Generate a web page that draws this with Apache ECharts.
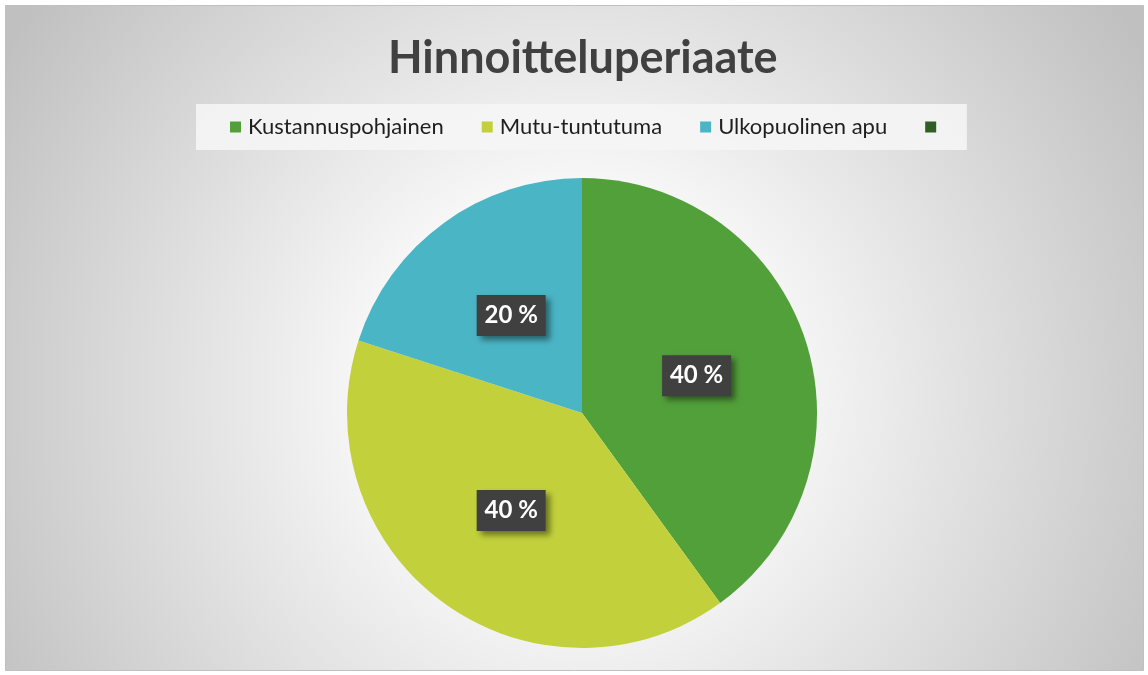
<!DOCTYPE html>
<html>
<head>
<meta charset="utf-8">
<script src="https://cdn.jsdelivr.net/npm/echarts@6/dist/echarts.min.js"></script>
<style>
html,body{margin:0;padding:0;background:#fff;}
#chart{width:1148px;height:675px;}
</style>
</head>
<body>
<div id="chart"></div>
<script>
const titleText = 'Hinnoitteluperiaate';
const categories = ['Kustannuspohjainen', 'Mutu-tuntutuma', 'Ulkopuolinen apu', ' '];
const values = [40, 40, 20, 0];
const colors = ['#52a03a', '#c2d13b', '#4ab5c5', '#2f5f24'];

const chart = echarts.init(document.getElementById('chart'));
const data = categories.map((c, i) => {
  const d = { name: c, value: values[i], itemStyle: { color: colors[i] } };
  if (!values[i]) { d.label = { show: false }; d.labelLine = { show: false }; }
  return d;
});

chart.setOption({
  animation: false,
  graphic: [{
    type: 'rect',
    z: -10,
    silent: true,
    shape: { x: 5.5, y: 5.5, width: 1138, height: 665 },
    style: {
      fill: {
        type: 'radial', x: 0.5, y: 0.58, r: 1.0,
        colorStops: [
          { offset: 0, color: '#ffffff' },
          { offset: 0.3, color: '#f8f8f8' },
          { offset: 1, color: '#c0c0c0' }
        ]
      },
      stroke: '#c0c0c0',
      lineWidth: 1
    }
  }],
  title: {
    text: titleText,
    left: 383,
    top: 31,
    textStyle: {
      fontFamily: 'Lato',
      fontSize: 45,
      fontWeight: 'bold',
      color: '#404040'
    }
  },
  legend: {
    data: categories,
    left: 196,
    top: 104,
    icon: 'rect',
    itemWidth: 11,
    itemHeight: 11,
    itemGap: 38,
    padding: [12, 18, 12, 34],
    backgroundColor: 'rgba(245,245,245,0.9)',
    textStyle: {
      fontFamily: 'Lato',
      fontSize: 22,
      color: '#1e1e1e',
      padding: [0, 0, 0, 2]
    }
  },
  series: [{
    type: 'pie',
    center: [582, 413],
    radius: [0, 235],
    startAngle: 90,
    clockwise: true,
    data: data,
    label: {
      show: true,
      position: 'inside',
      formatter: function (p) { return p.value + ' %'; },
      fontFamily: 'Lato',
      fontSize: 24,
      fontWeight: 'bold',
      color: '#ffffff',
      width: 53,
      height: 24,
      lineHeight: 24,
      overflow: 'none',
      align: 'center',
      verticalAlign: 'middle',
      backgroundColor: '#404040',
      padding: [9, 8, 8, 8],
      shadowColor: 'rgba(0,0,0,0.45)',
      shadowBlur: 6,
      shadowOffsetX: 4,
      shadowOffsetY: 4
    },
    labelLine: { show: false },
    emphasis: { disabled: true }
  }]
});
</script>
</body>
</html>
